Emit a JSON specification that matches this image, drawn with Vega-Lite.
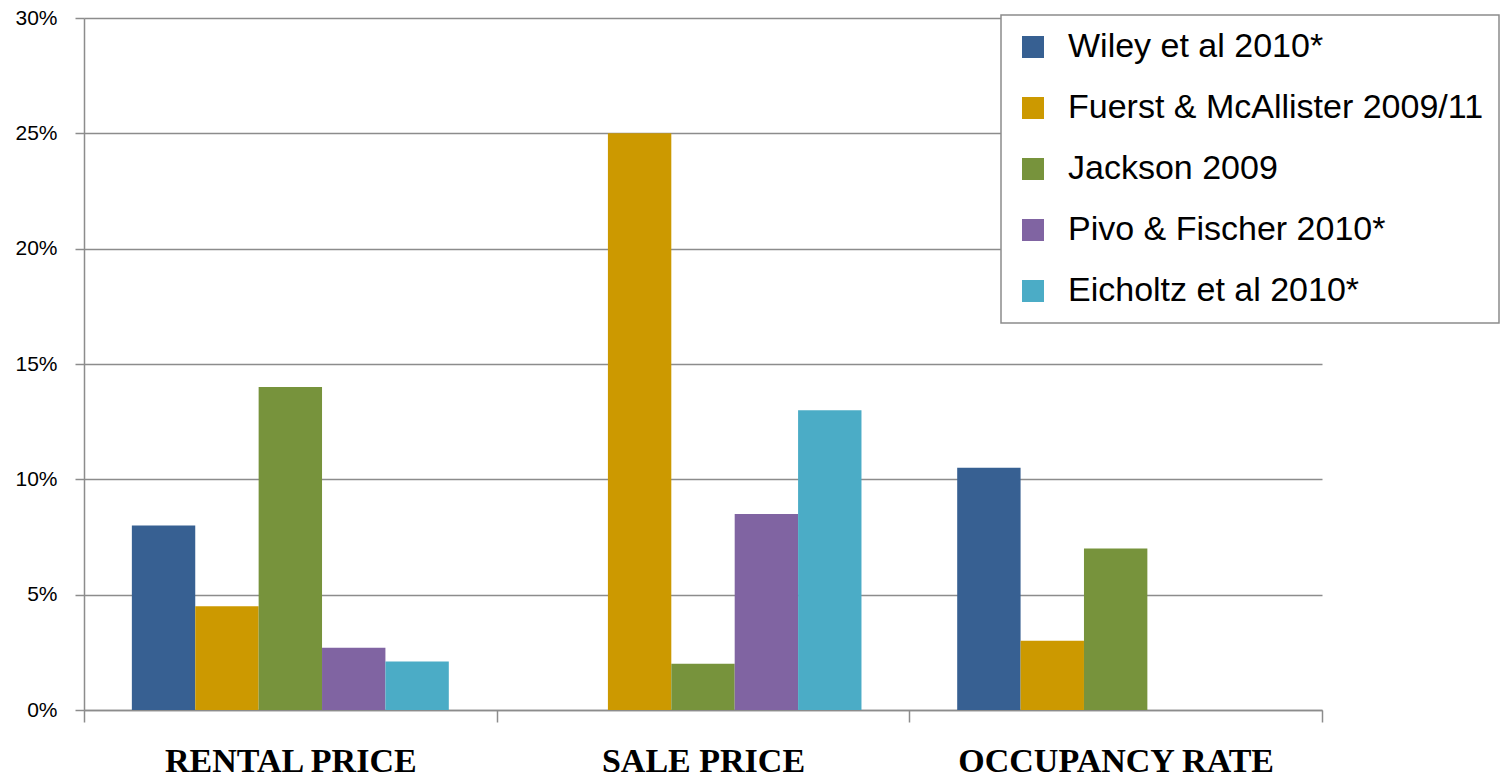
{
  "$schema": "https://vega.github.io/schema/vega-lite/v6.json",
  "width": 1238,
  "height": 692,
  "autosize": {"type": "none"},
  "padding": {"left": 84, "top": 18, "right": 180, "bottom": 73},
  "background": "white",
  "data": {
    "values": [
      {"measure": "Rental price", "study": "Wiley et al 2010*", "value": 0.08},
      {"measure": "Rental price", "study": "Fuerst & McAllister 2009/11", "value": 0.045},
      {"measure": "Rental price", "study": "Jackson 2009", "value": 0.14},
      {"measure": "Rental price", "study": "Pivo & Fischer 2010*", "value": 0.027},
      {"measure": "Rental price", "study": "Eicholtz et al 2010*", "value": 0.021},
      {"measure": "Sale price", "study": "Fuerst & McAllister 2009/11", "value": 0.25},
      {"measure": "Sale price", "study": "Jackson 2009", "value": 0.02},
      {"measure": "Sale price", "study": "Pivo & Fischer 2010*", "value": 0.085},
      {"measure": "Sale price", "study": "Eicholtz et al 2010*", "value": 0.13},
      {"measure": "Occupancy rate", "study": "Wiley et al 2010*", "value": 0.105},
      {"measure": "Occupancy rate", "study": "Fuerst & McAllister 2009/11", "value": 0.03},
      {"measure": "Occupancy rate", "study": "Jackson 2009", "value": 0.07}
    ]
  },
  "mark": {"type": "bar"},
  "encoding": {
    "x": {
      "field": "measure",
      "type": "nominal",
      "sort": ["Rental price", "Sale price", "Occupancy rate"],
      "scale": {"paddingInner": 0, "paddingOuter": 0},
      "axis": {
        "title": null,
        "labelExpr": "upper(datum.label)",
        "labelFont": "Liberation Serif",
        "labelFontWeight": "bold",
        "labelFontSize": 34,
        "labelColor": "#000000",
        "labelAngle": 0,
        "labelLimit": 0,
        "labelPadding": 22,
        "labelBaseline": "top",
        "tickBand": "extent",
        "tickSize": 12,
        "tickColor": "#8c8c8c",
        "tickWidth": 1.5,
        "domainColor": "#8c8c8c",
        "domainWidth": 1.5,
        "grid": false
      }
    },
    "xOffset": {
      "field": "study",
      "type": "nominal",
      "sort": ["Wiley et al 2010*", "Fuerst & McAllister 2009/11", "Jackson 2009", "Pivo & Fischer 2010*", "Eicholtz et al 2010*"],
      "scale": {"paddingInner": 0, "paddingOuter": 0.755}
    },
    "y": {
      "field": "value",
      "type": "quantitative",
      "scale": {"domain": [0, 0.3]},
      "axis": {
        "title": null,
        "values": [0, 0.05, 0.1, 0.15, 0.2, 0.25, 0.3],
        "format": ".0%",
        "labelFont": "Liberation Sans",
        "labelFontSize": 21,
        "labelColor": "#000000",
        "labelPadding": 18,
        "tickSize": 9,
        "tickColor": "#8c8c8c",
        "tickWidth": 1.5,
        "domainColor": "#8c8c8c",
        "domainWidth": 1.5,
        "grid": true,
        "gridColor": "#8c8c8c",
        "gridWidth": 1.5
      }
    },
    "color": {
      "field": "study",
      "type": "nominal",
      "scale": {
        "domain": ["Wiley et al 2010*", "Fuerst & McAllister 2009/11", "Jackson 2009", "Pivo & Fischer 2010*", "Eicholtz et al 2010*"],
        "range": ["#376092", "#cc9900", "#77933c", "#8064a2", "#4bacc6"]
      },
      "legend": {
        "title": null,
        "orient": "none",
        "legendX": 917,
        "legendY": -3,
        "direction": "vertical",
        "symbolType": "square",
        "symbolSize": 484,
        "symbolStrokeWidth": 0,
        "symbolOpacity": 1,
        "labelFont": "Liberation Sans",
        "labelFontSize": 34,
        "labelColor": "#000000",
        "labelLimit": 0,
        "labelOffset": 18,
        "rowPadding": 27,
        "padding": 15,
        "fillColor": "white",
        "strokeColor": "#8c8c8c"
      }
    }
  },
  "config": {
    "view": {"stroke": null},
    "legend": {"strokeWidth": 1.5}
  }
}
